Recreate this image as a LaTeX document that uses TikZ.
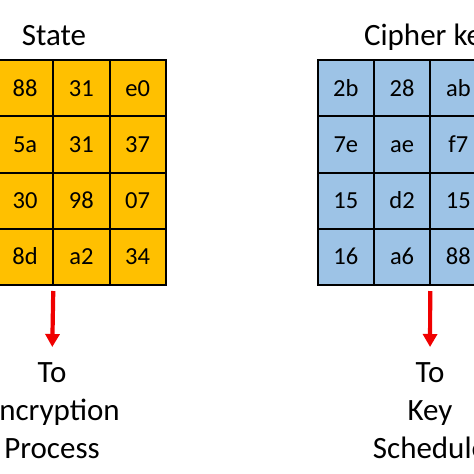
\documentclass[tikz,border=0pt]{standalone}
\usepackage{fontspec}
\setmainfont{Carlito}
\usetikzlibrary{arrows.meta}
\definecolor{stategold}{HTML}{FFC000}
\definecolor{keyblue}{HTML}{9DC3E6}
\definecolor{arrowred}{HTML}{F00000}
\tikzset{
  cellbox/.style={draw=black, line width=2pt, minimum width=56.25pt, minimum height=56.25pt,
    inner sep=0pt, outer sep=0pt, anchor=north west, text height=16pt, text depth=0pt,
    font=\fontsize{24.5}{29}\selectfont},
  statecell/.style={cellbox, fill=stategold},
  keycell/.style={cellbox, fill=keyblue},
  titletext/.style={font=\fontsize{31}{38}\selectfont, anchor=base, inner sep=0pt},
  labeltext/.style={font=\fontsize{31}{38}\selectfont, align=center, anchor=north, inner sep=0pt},
  redarrow/.style={draw=arrowred, line width=4.2pt, -{Triangle[length=13pt,width=14pt]}, shorten >=15pt}
}
\begin{document}
\begin{tikzpicture}[x=1pt,y=-1pt]
\useasboundingbox (0,0) rectangle (474,474);
\clip (0,0) rectangle (474,474);
\fill[white] (0,0) rectangle (474,474);
% State grid (visible columns)
\foreach \r/\a/\b/\c in {1/88/31/e0, 2/5a/31/37, 3/30/98/07, 4/8d/a2/34} {
  \node[statecell] (s-\r-1) at (-3, {60+56.25*(\r-1)}) {\a};
  \node[statecell] (s-\r-2) at (53.25, {60+56.25*(\r-1)}) {\b};
  \node[statecell] (s-\r-3) at (109.5, {60+56.25*(\r-1)}) {\c};
}
% Cipher key grid (visible columns)
\foreach \r/\a/\b/\c in {1/2b/28/ab, 2/7e/ae/f7, 3/15/d2/15, 4/16/a6/88} {
  \node[keycell] (k-\r-1) at (317.7, {60+56.25*(\r-1)}) {\a};
  \node[keycell] (k-\r-2) at (373.95, {60+56.25*(\r-1)}) {\b};
  \node[keycell] (k-\r-3) at (430.2, {60+56.25*(\r-1)}) {\c};
}
% Titles
\node[titletext] (statetitle) at (54,45.5) {State};
\node[titletext] (keytitle) at (430,45.5) {Cipher key};
% Labels
\node[labeltext] (enclabel) at (52,362) {To\\Encryption\\Process};
\node[labeltext] (keylabel) at (430,362) {To\\Key\\Schedule};
% Arrows
\draw[redarrow] ([yshift=-6pt]s-4-1.south east) -- (enclabel.north);
\draw[redarrow] ([yshift=-6pt]k-4-3.south west) -- (keylabel.north);
\end{tikzpicture}
\end{document}
